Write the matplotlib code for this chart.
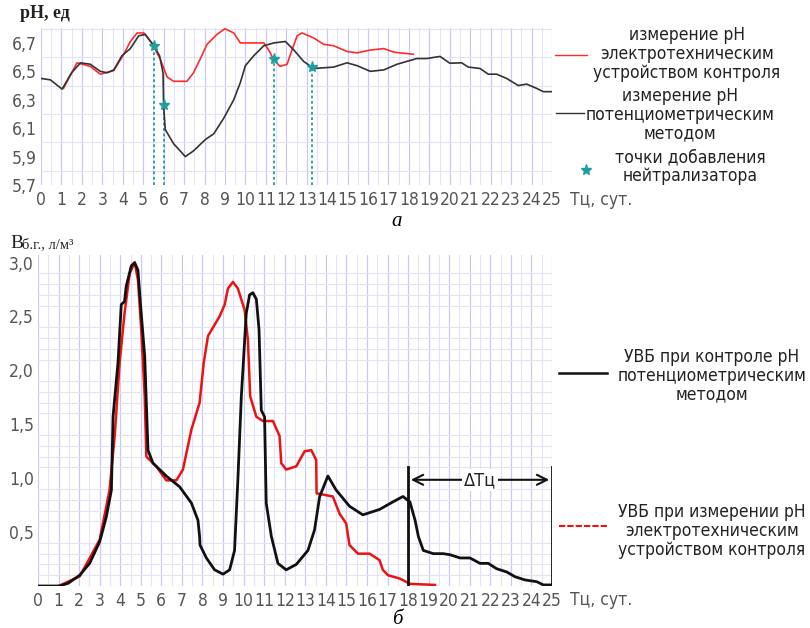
import matplotlib
matplotlib.use("Agg")
import matplotlib.pyplot as plt
from matplotlib.lines import Line2D
import numpy as np

# ---------------- data: chart a (pH) ----------------
ph_black_x = [0, 0.46, 1.03, 1.5, 1.93, 2.41, 2.9, 3.23, 3.56, 3.96, 4.37, 4.78, 5.1, 5.51, 5.8, 5.97,
              6.0, 6.08, 6.49, 7.06, 7.46, 8.04, 8.45, 8.94, 9.43, 9.75, 10.0, 10.41, 10.9, 11.39, 11.96,
              12.37, 12.85, 13.34, 14.32, 14.97, 15.46, 16.11, 16.77, 17.42, 18.38, 18.87, 19.52, 20.0,
              20.58, 20.9, 21.48, 21.88, 22.29, 22.78, 23.35, 23.76, 24.25, 24.57, 24.98]
ph_black_y = [6.45, 6.44, 6.375, 6.49, 6.56, 6.55, 6.50, 6.49, 6.51, 6.61, 6.66, 6.75, 6.76, 6.68, 6.61, 6.49,
              6.25, 6.09, 5.99, 5.90, 5.94, 6.02, 6.06, 6.17, 6.30, 6.42, 6.54, 6.61, 6.68, 6.70, 6.71,
              6.65, 6.57, 6.52, 6.53, 6.56, 6.54, 6.50, 6.51, 6.55, 6.59, 6.59, 6.605, 6.557,
              6.56, 6.53, 6.52, 6.48, 6.48, 6.45, 6.40, 6.41, 6.38, 6.357, 6.357]

ph_red_x = [1.1, 1.76, 2.41, 2.9, 3.56, 4.05, 4.37, 4.7, 5.03, 5.43, 5.85, 6.17, 6.49, 7.14, 7.46, 7.8,
            8.12, 8.61, 9.0, 9.43, 9.75, 10.41, 10.9, 11.14, 11.39, 11.7, 12.04, 12.28, 12.53, 12.77,
            13.34, 13.83, 14.32, 14.97, 15.46, 16.11, 16.77, 17.26, 18.22]
ph_red_y = [6.38, 6.56, 6.535, 6.48, 6.505, 6.62, 6.71, 6.77, 6.77, 6.70, 6.58, 6.46, 6.43, 6.43, 6.49, 6.59,
            6.69, 6.76, 6.80, 6.77, 6.70, 6.70, 6.70, 6.65, 6.58, 6.535, 6.55, 6.65, 6.75, 6.77,
            6.735, 6.69, 6.68, 6.64, 6.63, 6.65, 6.66, 6.635, 6.62]

neut_x = [5.51, 6.0, 11.39, 13.26]
neut_y = [6.68, 6.26, 6.59, 6.53]

ph_ticks = [5.7, 5.9, 6.1, 6.3, 6.5, 6.7]
ph_ticklabels = ["5,7", "5,9", "6,1", "6,3", "6,5", "6,7"]
day_ticks = list(range(0, 26))

# ---------------- data: chart б (gas yield) ----------------
v_black_x = [0, 1.05, 1.46, 2.03, 2.51, 3.0, 3.32, 3.57, 3.65, 3.89, 4.05, 4.21, 4.29, 4.54, 4.70, 4.86,
             5.02, 5.19, 5.35, 5.59, 6.24, 6.89, 7.46, 7.78, 7.86, 7.88, 8.19, 8.59, 9.0, 9.32, 9.56,
             9.72, 9.89, 10.13, 10.29, 10.45, 10.62, 10.75, 10.86, 11.02, 11.1, 11.35, 11.67, 12.07,
             12.56, 13.13, 13.45, 13.7, 14.1, 14.5, 15.15, 15.8, 16.61, 17.26, 17.75, 18.09, 18.34,
             18.5, 18.74, 19.23, 19.71, 20.04, 20.53, 21.01, 21.5, 21.9, 22.31, 22.8, 23.2, 23.69,
             24.26, 24.58, 24.99]
v_black_y = [0, 0, 0.025, 0.10, 0.21, 0.41, 0.64, 0.89, 1.57, 2.07, 2.61, 2.64, 2.78, 2.97, 3.00, 2.93,
             2.53, 2.13, 1.26, 1.14, 1.02, 0.92, 0.77, 0.61, 0.46, 0.38, 0.26, 0.15, 0.11, 0.15, 0.33,
             0.98, 1.76, 2.53, 2.70, 2.72, 2.66, 2.38, 1.63, 1.57, 0.77, 0.46, 0.21, 0.15,
             0.20, 0.33, 0.52, 0.83, 1.02, 0.89, 0.74, 0.66, 0.71, 0.78, 0.83, 0.78, 0.61,
             0.46, 0.33, 0.30, 0.30, 0.29, 0.26, 0.26, 0.21, 0.21, 0.16, 0.13, 0.086, 0.056,
             0.04, 0.01, 0.01]

v_red_x = [1.0, 2.03, 3.0, 3.48, 3.73, 3.97, 4.21, 4.46, 4.70, 4.86, 5.02, 5.19, 5.27, 5.75, 6.24, 6.73,
           7.05, 7.46, 7.86, 8.06, 8.27, 8.83, 9.08, 9.24, 9.48, 9.72, 10.05, 10.21, 10.32, 10.62,
           10.94, 11.43, 11.75, 11.83, 12.07, 12.56, 12.97, 13.29, 13.53, 13.55, 14.34, 14.67, 14.99,
           15.15, 15.56, 16.13, 16.61, 16.77, 17.02, 17.58, 18.0, 18.09, 19.31]
v_red_y = [0, 0.09, 0.43, 0.89, 1.39, 2.07, 2.53, 2.90, 3.00, 2.84, 2.38, 1.76, 1.20, 1.11, 0.98, 0.98,
           1.08, 1.45, 1.70, 2.07, 2.32, 2.50, 2.61, 2.76, 2.82, 2.76, 2.56, 2.28, 1.76, 1.57,
           1.53, 1.53, 1.39, 1.14, 1.08, 1.11, 1.25, 1.26, 1.17, 0.86, 0.83, 0.67, 0.58,
           0.38, 0.30, 0.30, 0.24, 0.15, 0.10, 0.07, 0.03, 0.02, 0.01]

v_ticks = [0.5, 1.0, 1.5, 2.0, 2.5, 3.0]
v_ticklabels = ["0,5", "1,0", "1,5", "2,0", "2,5", "3,0"]

dT_start, dT_end = 18, 25

# ---------------- figure ----------------
W, H = 810, 628
fig = plt.figure(figsize=(W / 100, H / 100), dpi=100)


def fx(px):
    return px / W


def fy(py):
    return 1 - py / H


FONT = dict(family="DejaVu Sans", stretch="condensed")
TICK_COLOR = "#555555"
GRID_MAJ = "#c9c9f2"
GRID_MIN = "#e2e2f8"


def style_axes(ax, ymin, ymax, ymin_step):
    ax.set_xlim(0, 25)
    ax.set_ylim(ymin, ymax)
    for s in ax.spines.values():
        s.set_visible(False)
    ax.set_xticks(day_ticks)
    ax.set_xticklabels([str(d) for d in day_ticks], fontsize=12.5, color=TICK_COLOR, **FONT)
    ax.set_xticks(np.arange(0, 25.01, 0.5), minor=True)
    ax.set_yticks(np.arange(ymin, ymax + 1e-6, ymin_step), minor=True)
    ax.tick_params(axis="both", which="both", length=0)
    ax.tick_params(axis="x", pad=4)
    ax.tick_params(axis="y", pad=3)
    ax.grid(True, which="minor", color=GRID_MIN, lw=0.8)
    ax.grid(True, which="major", axis="x", color=GRID_MAJ, lw=0.9)
    ax.set_axisbelow(True)


# ---- chart a ----
ax1 = fig.add_axes([fx(41), fy(185), fx(552 - 41), (185 - 28) / H])
style_axes(ax1, 5.7, 6.805, 0.1)
ax1.set_yticks(ph_ticks)
ax1.set_yticklabels(ph_ticklabels, fontsize=12.5, color=TICK_COLOR, **FONT)
ax1.tick_params(axis="y", which="major", left=False)

TEAL = "#1f9e9e"
for x, y in zip(neut_x, neut_y):
    ax1.plot([x, x], [5.7, y], color=TEAL, lw=1.3, ls=(0, (1.5, 1.5)), zorder=2)
ax1.plot(ph_red_x, ph_red_y, color="#ff2b2b", lw=1.2, zorder=3)
ax1.plot(ph_black_x, ph_black_y, color="#333333", lw=1.2, zorder=4)
ax1.plot(neut_x, neut_y, ls="none", marker="*", ms=8, color=TEAL, zorder=5)

fig.text(fx(20), fy(14), "pH, ед", fontsize=13, fontweight="bold", family="Liberation Serif",
         color="#222222", va="center", ha="left")
fig.text(fx(570), fy(200), "Тц, сут.", fontsize=12.5, color=TICK_COLOR, va="center", ha="left", **FONT)
fig.text(fx(397), fy(221), "а", fontsize=15, style="italic", family="Liberation Serif",
         va="center", ha="center")

# legend a
fig.add_artist(Line2D([fx(555), fx(587)], [fy(55), fy(55)], color="#ff2b2b", lw=1.0))
fig.text(fx(687), fy(54), "измерение pH\nэлектротехническим\nустройством контроля", fontsize=12.5,
         ha="center", va="center", linespacing=1.05, color="#222222", **FONT)
fig.add_artist(Line2D([fx(556), fx(584)], [fy(113), fy(113)], color="#333333", lw=1.0))
fig.text(fx(680), fy(115), "измерение pH\nпотенциометрическим\nметодом", fontsize=12.5,
         ha="center", va="center", linespacing=1.05, color="#222222", **FONT)
fig.add_artist(Line2D([fx(586)], [fy(170)], ls="none", marker="*", ms=8, color=TEAL))
fig.text(fx(690), fy(167), "точки добавления\nнейтрализатора", fontsize=12.5,
         ha="center", va="center", linespacing=1.05, color="#222222", **FONT)

# ---- chart б ----
ax2 = fig.add_axes([fx(38), fy(586), fx(552 - 38), (586 - 255) / H])
style_axes(ax2, 0.0, 3.07, 0.1)
ax2.set_yticks(v_ticks)
ax2.set_yticklabels(v_ticklabels, fontsize=12.5, color=TICK_COLOR, **FONT)

ax2.plot(v_red_x, v_red_y, color="#ee1111", lw=1.8, zorder=3)
ax2.plot(v_black_x, v_black_y, color="#111111", lw=2.0, zorder=4)

# ΔТц annotation
for xv in (dT_start, dT_end):
    ax2.plot([xv, xv], [0, 1.10], color="#111111", lw=2.0, zorder=5)
ax2.annotate("", xy=(dT_start, 0.985), xytext=(dT_end, 0.985),
             arrowprops=dict(arrowstyle="<->", color="#111111", lw=1.5, mutation_scale=18), zorder=5)
ax2.text((dT_start + dT_end) / 2, 0.985, "ΔТц", fontsize=13, ha="center", va="center", color="#222222",
         bbox=dict(facecolor="white", edgecolor="none", pad=1.5), zorder=6, **FONT)

fig.text(fx(10), fy(243), "В", fontsize=14, family="Liberation Serif", color="#222222",
         va="center", ha="left")
fig.text(fx(22), fy(245), "б.г., л/м³", fontsize=10.5, family="Liberation Serif", color="#222222",
         va="center", ha="left")
fig.text(fx(570), fy(600), "Тц, сут.", fontsize=12.5, color=TICK_COLOR, va="center", ha="left", **FONT)
fig.text(fx(397), fy(619), "б", fontsize=15, style="italic", family="Liberation Serif",
         va="center", ha="center")

# legend б
fig.add_artist(Line2D([fx(559), fx(607)], [fy(373), fy(373)], color="#111111", lw=1.8))
fig.text(fx(712), fy(376), "УВБ при контроле pH\nпотенциометрическим\nметодом", fontsize=12.5,
         ha="center", va="center", linespacing=1.05, color="#222222", **FONT)
fig.add_artist(Line2D([fx(559), fx(607)], [fy(526), fy(526)], color="#ee1111", lw=1.5,
                      ls=(0, (3, 1))))
fig.text(fx(712), fy(531), "УВБ при измерении pH\nэлектротехническим\nустройством контроля", fontsize=12.5,
         ha="center", va="center", linespacing=1.05, color="#222222", **FONT)

fig.savefig("out.png", dpi=100)
